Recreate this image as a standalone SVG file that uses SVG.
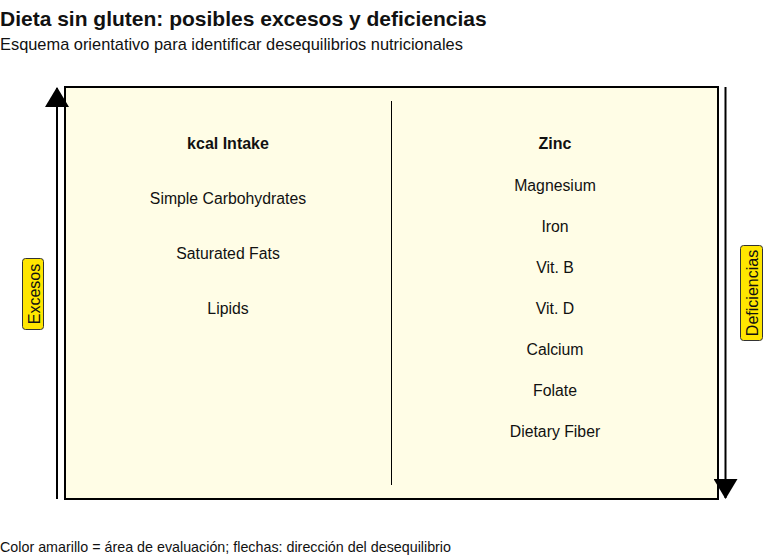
<svg xmlns="http://www.w3.org/2000/svg" width="784" height="556" viewBox="0 0 784 556">
<style>
text{font-family:"Liberation Sans",Arial,sans-serif;fill:#111}
.title{font-size:21px;font-weight:bold}
.sub{font-size:16.4px}
.foot{font-size:14.3px}
.item{font-size:15.8px;text-anchor:middle}
.head{font-size:16px;font-weight:bold;text-anchor:middle}
.tag{fill:#FFE600;stroke:#333;stroke-width:1}
.tagtxt{font-size:16px;text-anchor:middle;dominant-baseline:central}
.arrow{stroke:#000;stroke-width:2;fill:none}
</style>
<defs>
<marker id="ah" viewBox="0 0 20 24" refX="19" refY="12" markerWidth="20" markerHeight="24" markerUnits="userSpaceOnUse" orient="auto">
<path d="M0,0 L20,12 L0,24 Z" fill="#000"/>
</marker>
</defs>
<rect width="784" height="556" fill="#fff"/>
<text class="title" x="0" y="26">Dieta sin gluten: posibles excesos y deficiencias</text>
<text class="sub" x="0" y="50">Esquema orientativo para identificar desequilibrios nutricionales</text>
<g id="area">
<rect x="65" y="87" width="653" height="412" fill="#FFFDE6" stroke="#000" stroke-width="2"/>
<line x1="391.5" y1="101" x2="391.5" y2="485" stroke="#000" stroke-width="1"/>
</g>
<g id="excesos-list">
<text class="head" x="228" y="149">kcal Intake</text>
<text class="item" x="228" y="204">Simple Carbohydrates</text>
<text class="item" x="228" y="259">Saturated Fats</text>
<text class="item" x="228" y="314">Lipids</text>
</g>
<g id="deficiencias-list">
<text class="head" x="555" y="149">Zinc</text>
<text class="item" x="555" y="191">Magnesium</text>
<text class="item" x="555" y="232">Iron</text>
<text class="item" x="555" y="273">Vit. B</text>
<text class="item" x="555" y="314">Vit. D</text>
<text class="item" x="555" y="355">Calcium</text>
<text class="item" x="555" y="396">Folate</text>
<text class="item" x="555" y="437">Dietary Fiber</text>
</g>
<g id="connectors">
<line class="arrow" x1="57" y1="499" x2="57" y2="88" marker-end="url(#ah)"/>
<line class="arrow" x1="725.5" y1="87" x2="725.5" y2="498" marker-end="url(#ah)"/>
</g>
<g id="label-excesos">
<rect class="tag" x="22.5" y="258.5" width="21" height="71" rx="3"/>
<text class="tagtxt" transform="translate(34,294) rotate(-90)">Excesos</text>
</g>
<g id="label-deficiencias">
<rect class="tag" x="740.5" y="245.5" width="22" height="95" rx="3"/>
<text class="tagtxt" transform="translate(752,293) rotate(-90)">Deficiencias</text>
</g>
<text class="foot" x="0" y="552">Color amarillo = área de evaluación; flechas: dirección del desequilibrio</text>
</svg>
